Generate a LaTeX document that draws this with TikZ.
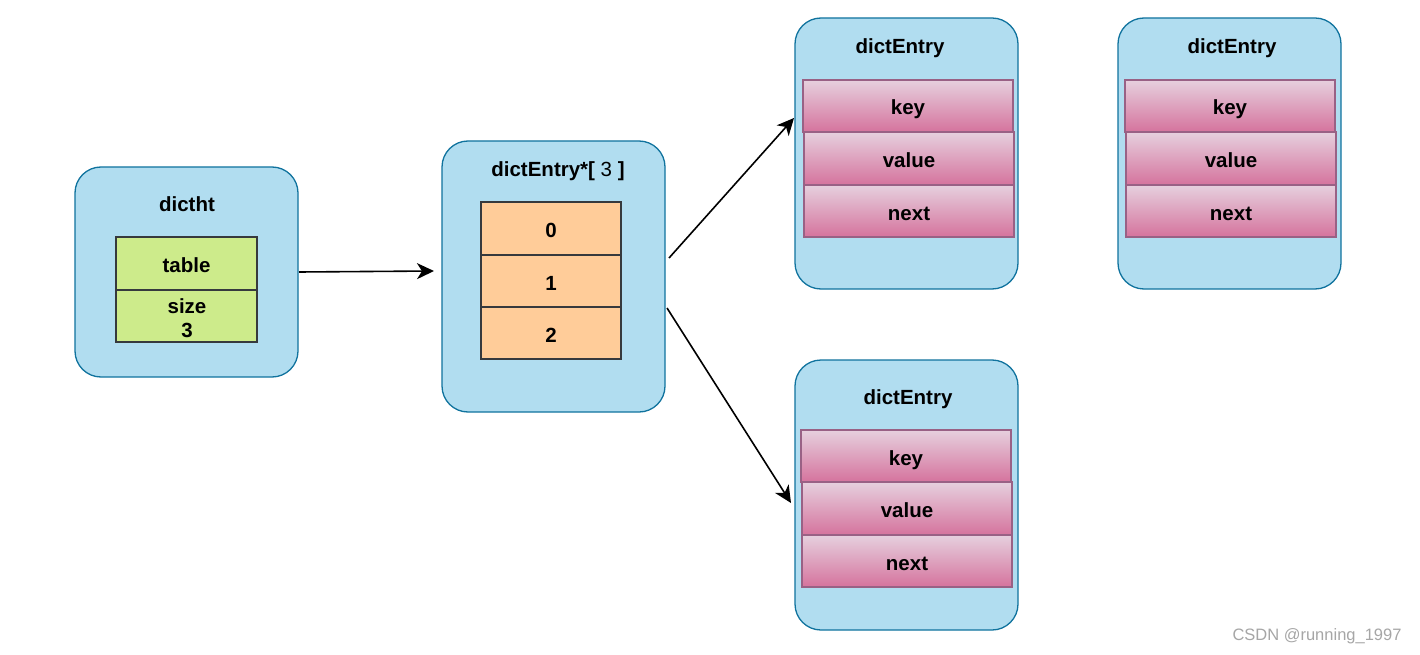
\documentclass[tikz,border=0pt]{standalone}
\usepackage{fontspec}
\setmainfont{Liberation Sans}
\usetikzlibrary{arrows.meta}
\definecolor{boxfill}{HTML}{B1DDF0}
\definecolor{boxline}{HTML}{10739E}
\definecolor{greenfill}{HTML}{CDEB8B}
\definecolor{cellline}{HTML}{36393D}
\definecolor{orangefill}{HTML}{FFCC99}
\definecolor{pinktop}{HTML}{E6D0DE}
\definecolor{pinkbot}{HTML}{D5739D}
\definecolor{pinkline}{HTML}{996185}
\tikzset{
  container/.style={draw=boxline, fill=boxfill, line width=1.3pt, rounded corners=26pt},
  title/.style={font=\fontsize{20.5}{24}\selectfont\bfseries, inner sep=0, anchor=base},
  cellbase/.style={line width=1.3pt, font=\fontsize{20.5}{24}\selectfont\bfseries, inner sep=0, text height=22pt, text depth=4pt},
  greencell/.style={cellbase, draw=cellline, fill=greenfill},
  orangecell/.style={cellbase, draw=cellline, fill=orangefill},
  pinkcell/.style={cellbase, draw=pinkline, top color=pinktop, bottom color=pinkbot},
  conn/.style={line width=1.6pt, -{Stealth[length=17pt,width=16pt,inset=5pt]}},
}
\begin{document}
\begin{tikzpicture}[x=1pt,y=-1pt]
\useasboundingbox (0,0) rectangle (1420,655);
\fill[white] (0,0) rectangle (1420,655);

% dictht
\draw[container] (75,167) rectangle (298,377);
\node[title] (dicthtlbl) at (187,211) {dictht};
\node[greencell, minimum width=141pt, minimum height=53pt] (table) at (186.5,263.5) {table};
\node[draw=cellline, fill=greenfill, line width=1.3pt, minimum width=141pt, minimum height=52pt, inner sep=0] (size) at (186.5,316) {};
\node[title] (sizelbl) at (187,313) {size};
\node[title] (sizeval) at (187,337) {3};
\coordinate (dictE) at (299,272);

% array
\draw[container] (442,141) rectangle (665,412);
\node[title] (arrlbl) at (558,176) {dictEntry*[\mdseries{} 3 \bfseries]};
\node[orangecell, minimum width=140pt, minimum height=53pt] (c0) at (551,228.5) {0};
\node[orangecell, minimum width=140pt, minimum height=52pt] (c1) at (551,281) {1};
\node[orangecell, minimum width=140pt, minimum height=52pt] (c2) at (551,333) {2};
\coordinate (arrIn) at (434,271);
\coordinate (arrOutA) at (669,258);
\coordinate (arrOutB) at (667,308);

% entry 1
\draw[container] (795,18) rectangle (1018,289);
\node[title] (e1lbl) at (900,54) {dictEntry};
\node[pinkcell, minimum width=210pt, minimum height=52pt] (e1k) at (908,106) {key};
\node[pinkcell, minimum width=210pt, minimum height=53pt] (e1v) at (909,158.5) {value};
\node[pinkcell, minimum width=210pt, minimum height=52pt] (e1n) at (909,211) {next};
\coordinate (e1in) at (794,118);

% entry 2
\draw[container] (1118,18) rectangle (1341,289);
\node[title] (e2lbl) at (1232,54) {dictEntry};
\node[pinkcell, minimum width=210pt, minimum height=52pt] (e2k) at (1230,106) {key};
\node[pinkcell, minimum width=210pt, minimum height=53pt] (e2v) at (1231,158.5) {value};
\node[pinkcell, minimum width=210pt, minimum height=52pt] (e2n) at (1231,211) {next};

% entry 3
\draw[container] (795,360) rectangle (1018,630);
\node[title] (e3lbl) at (908,404) {dictEntry};
\node[pinkcell, minimum width=210pt, minimum height=52pt] (e3k) at (906,456) {key};
\node[pinkcell, minimum width=210pt, minimum height=53pt] (e3v) at (907,508.5) {value};
\node[pinkcell, minimum width=210pt, minimum height=52pt] (e3n) at (907,561) {next};
\coordinate (e3in) at (791,503);

% connectors
\draw[conn] (dictE) -- (arrIn);
\draw[conn] (arrOutA) -- (e1in);
\draw[conn] (arrOutB) -- (e3in);

% watermark
\node[text=black!35, font=\fontsize{16.5}{19}\selectfont, inner sep=0] (wm) at (1317,636) {CSDN @running\_1997};
\end{tikzpicture}
\end{document}
